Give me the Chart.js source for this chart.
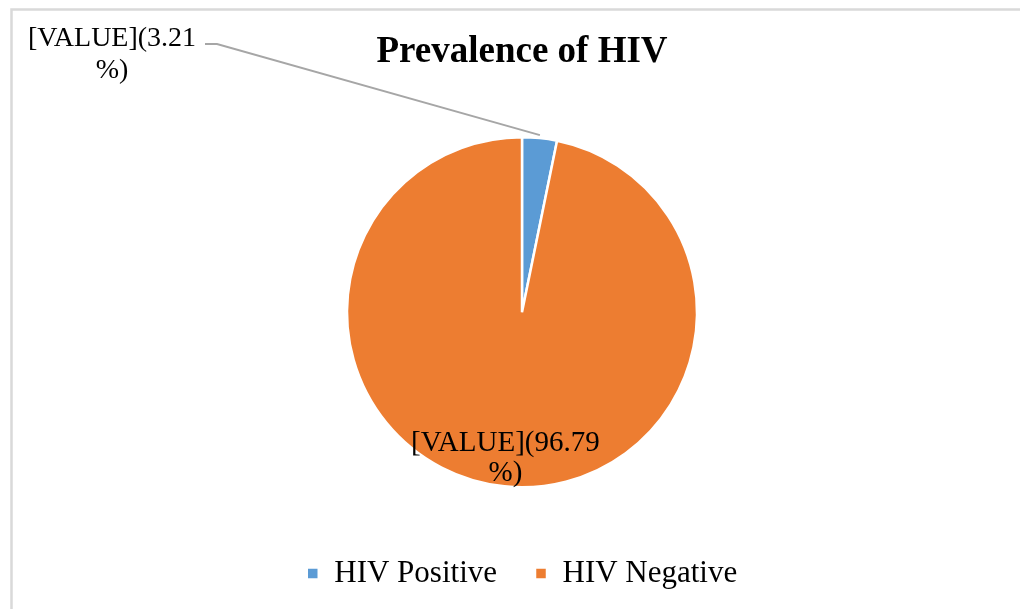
<!DOCTYPE html>
<html>
<head>
<meta charset="utf-8">
<script src="https://cdn.jsdelivr.net/npm/chart.js@4"></script>
<style>
html,body{margin:0;padding:0;background:#fff;}
#wrap{position:relative;width:1020px;height:609px;}
</style>
</head>
<body>
<div id="wrap"><canvas id="c" width="1020" height="609"></canvas></div>
<script>
const categories = ["HIV Positive", "HIV Negative"];
const values = [3.21, 96.79];
const colors = ["#5B9BD5", "#ED7D31"];
const titleText = "Prevalence of HIV";

const SERIF = "'Liberation Serif', 'Times New Roman', serif";

const framePlugin = {
  id: 'frame',
  beforeDraw(chart) {
    const ctx = chart.ctx;
    ctx.save();
    ctx.fillStyle = '#fff';
    ctx.fillRect(0, 0, chart.width, chart.height);
    ctx.strokeStyle = '#d9d9d9';
    ctx.lineWidth = 2.5;
    ctx.beginPath();
    ctx.moveTo(11.5, chart.height + 5);
    ctx.lineTo(11.5, 9.5);
    ctx.lineTo(chart.width + 5, 9.5);
    ctx.stroke();
    ctx.restore();
  }
};

const labelPlugin = {
  id: 'sliceLabels',
  afterDatasetsDraw(chart) {
    const ctx = chart.ctx;
    const meta = chart.getDatasetMeta(0);
    const data = chart.data.datasets[0].data;
    ctx.save();
    ctx.fillStyle = '#000';
    ctx.textAlign = 'center';
    ctx.textBaseline = 'middle';
    meta.data.forEach((arc, i) => {
      const p = arc.getProps(['x','y','startAngle','endAngle','outerRadius'], true);
      const mid = (p.startAngle + p.endAngle) / 2;
      const line1 = '[VALUE](' + data[i];
      const line2 = '%)';
      if (i === 0) {
        ctx.font = "28px " + SERIF;
        const ox = p.x + Math.cos(mid) * (p.outerRadius + 3);
        const oy = p.y + Math.sin(mid) * (p.outerRadius + 3);
        ctx.strokeStyle = '#a6a6a6';
        ctx.lineWidth = 2;
        ctx.beginPath();
        ctx.moveTo(ox, oy);
        ctx.lineTo(217, 44);
        ctx.lineTo(205, 44);
        ctx.stroke();
        ctx.fillText(line1, 112, 39);
        ctx.fillText(line2, 112, 71);
      } else {
        ctx.font = "29px " + SERIF;
        const r = p.outerRadius * 0.83;
        const cx = p.x + Math.cos(mid) * r;
        const cy = p.y + Math.sin(mid) * r;
        ctx.fillText(line1, cx - 2, cy - 13);
        ctx.fillText(line2, cx - 2, cy + 17);
      }
    });
    ctx.restore();
  }
};

new Chart(document.getElementById('c'), {
  type: 'pie',
  data: {
    labels: categories,
    datasets: [{
      data: values,
      backgroundColor: colors,
      borderColor: '#ffffff',
      borderWidth: 2.5,
      radius: 175
    }]
  },
  options: {
    responsive: false,
    animation: false,
    devicePixelRatio: 1,
    layout: { padding: { left: 24, right: 0, top: 0, bottom: 10 } },
    plugins: {
      title: {
        display: true,
        text: titleText,
        color: '#000',
        font: { family: SERIF, size: 37, weight: 'bold' },
        padding: { top: 30, bottom: 30 }
      },
      legend: {
        display: true,
        position: 'bottom',
        labels: {
          color: '#000',
          font: { family: SERIF, size: 31 },
          boxWidth: 12,
          boxHeight: 12,
          padding: 38
        }
      },
      tooltip: { enabled: false }
    }
  },
  plugins: [framePlugin, labelPlugin]
});
</script>
</body>
</html>
